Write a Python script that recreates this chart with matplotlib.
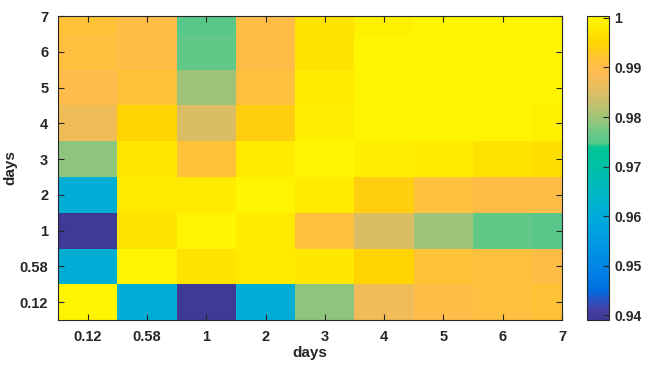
import numpy as np
import matplotlib
matplotlib.use("Agg")
import matplotlib.pyplot as plt
from matplotlib.colors import LinearSegmentedColormap

plt.rcParams['font.family'] = ['Liberation Sans', 'DejaVu Sans']
plt.rcParams['font.weight'] = 'bold'
plt.rcParams['axes.labelweight'] = 'bold'

tick_labels = ["0.12", "0.58", "1", "2", "3", "4", "5", "6", "7"]

# rows from bottom (0.12) to top (7), columns from 0.12 to 7
row_012 = [1.000, 0.961, 0.939, 0.961, 0.979, 0.987, 0.990, 0.991, 0.992]
row_058 = [0.961, 1.000, 0.997, 0.998, 0.9975, 0.995, 0.992, 0.991, 0.990]
row_1 = [0.939, 0.997, 1.000, 0.998, 0.991, 0.985, 0.980, 0.976, 0.975]
row_2 = [0.961, 0.998, 0.998, 1.000, 0.998, 0.994, 0.991, 0.990, 0.990]
row_3 = [0.979, 0.9975, 0.992, 0.998, 1.000, 0.9985, 0.998, 0.997, 0.9965]
row_4 = [0.987, 0.995, 0.985, 0.994, 0.9985, 1.000, 1.000, 1.000, 0.999]
row_5 = [0.9895, 0.992, 0.980, 0.991, 0.998, 1.000, 1.000, 1.000, 1.000]
row_6 = [0.991, 0.990, 0.976, 0.990, 0.997, 1.000, 1.000, 1.000, 1.000]
row_7 = [0.992, 0.990, 0.975, 0.990, 0.997, 0.999, 1.000, 1.000, 1.000]

vmin, vmax = 0.9390, 1.0004

# colormap anchors (value, rgb)
cmap_vals = [0.9390, 0.9410, 0.9430, 0.9450, 0.9500, 0.9550, 0.9600, 0.9650,
             0.9700, 0.9740, 0.9745, 0.9770, 0.9800, 0.9830, 0.9860, 0.9890,
             0.9920, 0.9950, 0.9980, 1.0004]
cmap_rgb = [(62, 58, 150), (70, 62, 165), (40, 85, 200), (0, 110, 225),
            (0, 135, 230), (0, 155, 228), (0, 172, 218), (0, 185, 195),
            (0, 192, 165), (0, 197, 148), (80, 200, 140), (110, 200, 135),
            (160, 196, 120), (200, 192, 108), (230, 190, 95), (255, 187, 82),
            (255, 195, 55), (255, 212, 0), (255, 235, 0), (255, 247, 0)]

pos = [(v - vmin) / (vmax - vmin) for v in cmap_vals]
pos[0], pos[-1] = 0.0, 1.0
cmap = LinearSegmentedColormap.from_list(
    "parula_like", list(zip(pos, [tuple(c / 255 for c in rgb) for rgb in cmap_rgb])), N=256)

data = np.array([row_012, row_058, row_1, row_2, row_3, row_4, row_5, row_6, row_7])
n = len(tick_labels)

fig = plt.figure(figsize=(6.46, 3.69), dpi=100)
ax = fig.add_axes([58/646, 1 - 320/369, (562-58)/646, (320-16)/369])
cax = fig.add_axes([587/646, 1 - 320/369, 22/646, (320-16)/369])

im = ax.imshow(data, origin='lower', cmap=cmap, vmin=vmin, vmax=vmax,
               extent=(0.5, n + 0.5, 0.5, n + 0.5), aspect='auto',
               interpolation='nearest')
ax.set_xlim(0.5, n)
ax.set_ylim(0.5, n)

txt = '#262626'
ax.set_xticks(np.arange(1, n + 1))
ax.set_yticks(np.arange(1, n + 1))
ax.set_xticklabels(tick_labels)
ax.set_yticklabels(tick_labels)
ax.tick_params(direction='in', length=4, width=0.8, top=True, right=True,
               labelsize=10.5, colors=txt, pad=7)
ax.set_xlabel("days", fontsize=11, color=txt, labelpad=2)
ax.set_ylabel("days", fontsize=11, color=txt, labelpad=2)
for s in ax.spines.values():
    s.set_color(txt)
    s.set_linewidth(0.8)

cb = fig.colorbar(im, cax=cax)
cb.set_ticks([0.94, 0.95, 0.96, 0.97, 0.98, 0.99, 1.0])
cb.set_ticklabels(["0.94", "0.95", "0.96", "0.97", "0.98", "0.99", "1"])
cax.tick_params(direction='in', length=4, width=0.8, labelsize=10, colors=txt, pad=4)
cb.outline.set_edgecolor(txt)
cb.outline.set_linewidth(0.8)

fig.savefig("out.png", dpi=100)
